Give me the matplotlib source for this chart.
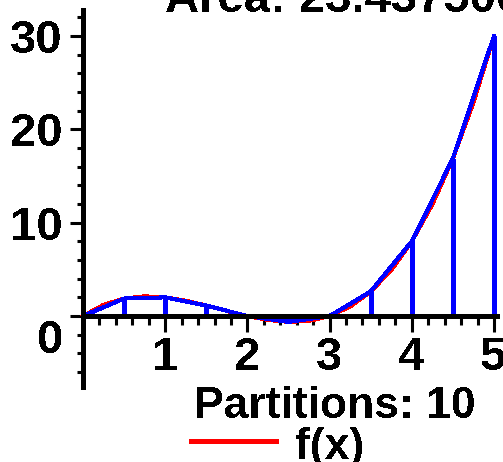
import matplotlib.pyplot as plt
from matplotlib.lines import Line2D
from matplotlib.transforms import ScaledTranslation

# partition nodes of the trapezoid sum (10 partitions on [0, 5])
node_x = [0, 0.5, 1, 1.5, 2, 2.5, 3, 3.5, 4, 4.5, 5]
node_y = [0, 1.875, 2, 1.125, 0, -0.625, 0, 2.625, 8, 16.875, 30]

# f(x)
curve_x = [0, 0.25, 0.5, 0.75, 1, 1.25, 1.5, 1.75, 2, 2.25, 2.5,
           2.75, 3, 3.25, 3.5, 3.75, 4, 4.25, 4.5, 4.75, 5]
curve_y = [0, 1.2, 1.875, 2.11, 2, 1.64, 1.125, 0.55, 0, -0.42, -0.625,
           -0.52, 0, 1.02, 2.625, 4.92, 8, 11.95, 16.875, 22.86, 30]

x_ticks = [1, 2, 3, 4, 5]
y_ticks = [0, 10, 20, 30]
y_labels = ['0', '10', '20', '30']
title = 'Area: 23.43750000'
caption = 'Partitions: 10'

plt.rcParams['font.family'] = ['Liberation Sans', 'DejaVu Sans']
plt.rcParams['font.weight'] = 'bold'
plt.rcParams['text.antialiased'] = False

fig = plt.figure(figsize=(5.03, 4.62), dpi=100)
ax = fig.add_axes([0, 0, 1, 1])
ax.set_xlim(-1.01, 5.11)
ax.set_ylim(-15.64, 33.86)

lw = 2.2
ax.plot(curve_x, curve_y, color='red', lw=lw, antialiased=False)
ax.plot(node_x, node_y, color='blue', lw=lw, antialiased=False)
ax.vlines(node_x, 0, node_y, color='blue', lw=lw, antialiased=False)

for s in ['top', 'right']:
    ax.spines[s].set_visible(False)
ax.spines['left'].set_position(('data', 0))
ax.spines['bottom'].set_position(('data', 0))
ax.spines['left'].set_bounds(-7.6, 32.8)
ax.spines['bottom'].set_bounds(0, 5.04)
for s in ['left', 'bottom']:
    ax.spines[s].set_linewidth(lw)
    ax.spines[s].set_antialiased(False)

ax.set_xticks(x_ticks)
ax.set_xticks([v / 5 for v in range(1, 26) if v % 5], minor=True)
ax.set_yticks(y_ticks, labels=y_labels)
ax.set_yticks([v for v in range(-6, 33, 2) if v % 10], minor=True)

ax.tick_params(axis='x', which='major', length=11.5, width=lw, pad=3, labelsize=34)
ax.tick_params(axis='x', which='minor', length=6.5, width=lw)
ax.tick_params(axis='y', which='major', length=9.4, width=lw, pad=5, labelsize=34)
ax.tick_params(axis='y', which='minor', length=4.3, width=lw)

# Maple pushes the 0 label below the x axis
zero = ax.yaxis.get_major_ticks()[0].label1
zero.set_transform(zero.get_transform() + ScaledTranslation(0, -0.2, fig.dpi_scale_trans))

fig.text(165 / 503, 1 - 12 / 462, title, ha='left', va='baseline', fontsize=34)
fig.text(335 / 503, 1 - 406 / 462, caption, ha='center', va='center', fontsize=32)
fig.text(330 / 503, 1 - 447 / 462, 'f(x)', ha='center', va='center', fontsize=32)
fig.add_artist(Line2D([191 / 503, 276 / 503], [1 - 441 / 462] * 2,
                      transform=fig.transFigure, color='red', lw=lw, antialiased=False))

fig.savefig('out.png', dpi=100)
